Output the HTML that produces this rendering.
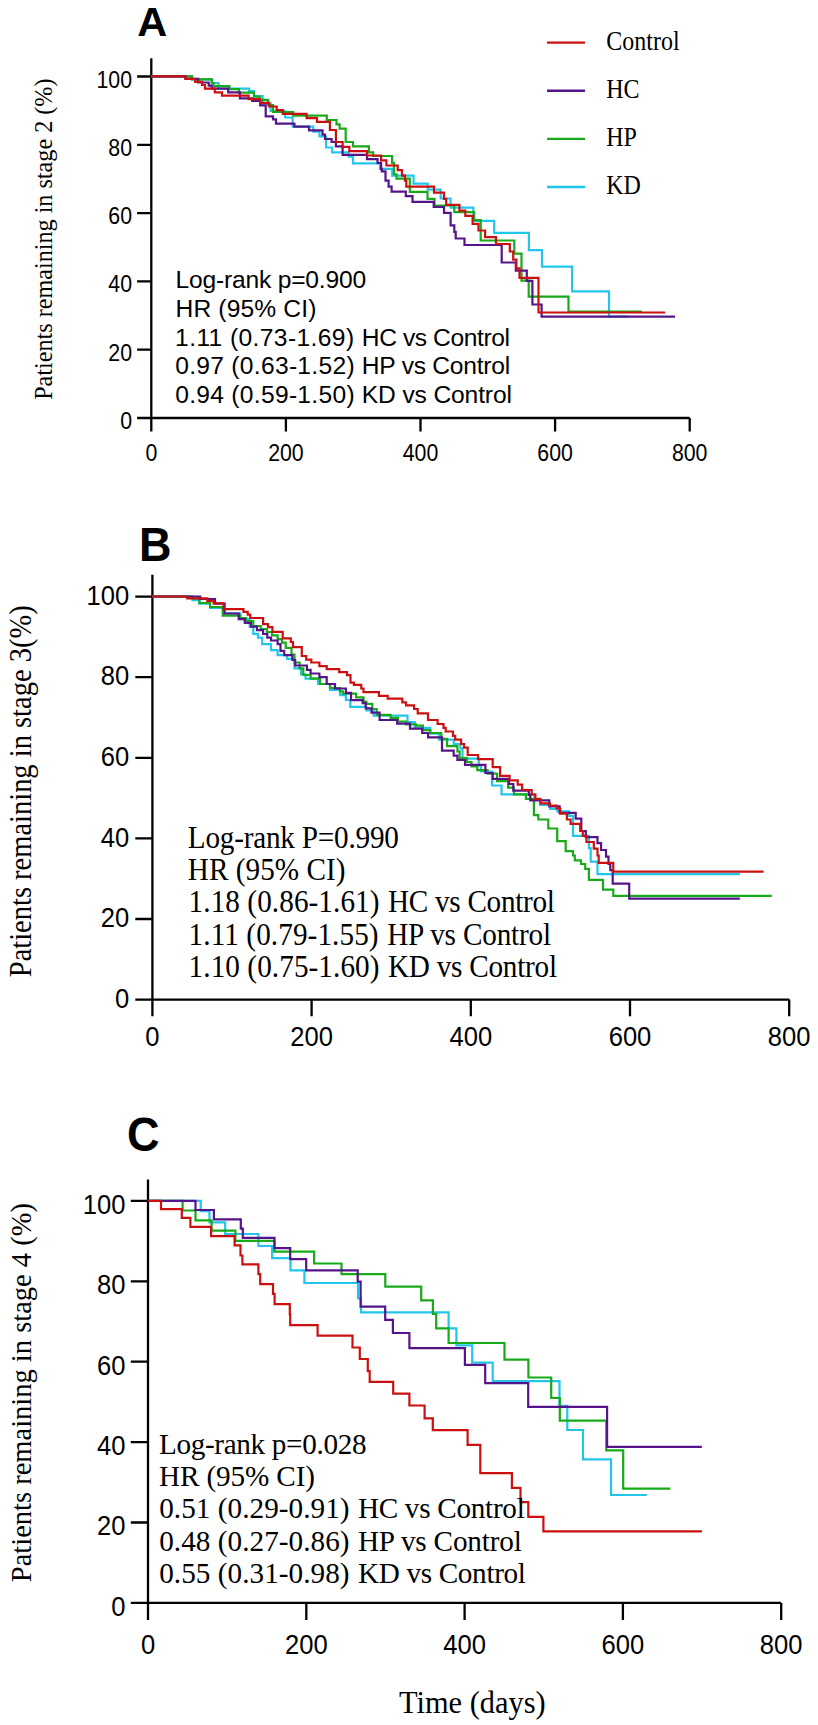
<!DOCTYPE html>
<html><head><meta charset="utf-8"><style>
html,body{margin:0;padding:0;background:#fff;overflow:hidden;}
svg{display:block;}
</style></head><body>
<svg width="818" height="1725" viewBox="0 0 818 1725">
<rect width="818" height="1725" fill="#fff"/>
<path d="M151.3,58.3V431.6M137.1,418.0H689.7M137.1,349.70H151.3M137.1,281.40H151.3M137.1,213.10H151.3M137.1,144.80H151.3M137.1,76.50H151.3M285.90,418.0V431.6M420.50,418.0V431.6M555.10,418.0V431.6M689.70,418.0V431.6" stroke="#000" stroke-width="2.3" fill="none"/>
<path d="M152.4,574.8V1016.2M135.3,999.6H789.1999999999999M135.3,919.00H152.4M135.3,838.40H152.4M135.3,757.80H152.4M135.3,677.20H152.4M135.3,596.60H152.4M311.60,999.6V1016.2M470.80,999.6V1016.2M630.00,999.6V1016.2M789.20,999.6V1016.2" stroke="#000" stroke-width="2.3" fill="none"/>
<path d="M148.0,1179.6V1619.9M130.8,1602.9H781.2M130.8,1522.50H148.0M130.8,1442.10H148.0M130.8,1361.70H148.0M130.8,1281.30H148.0M130.8,1200.90H148.0M306.30,1602.9V1619.9M464.60,1602.9V1619.9M622.90,1602.9V1619.9M781.20,1602.9V1619.9" stroke="#000" stroke-width="2.3" fill="none"/>
<path d="M151.3,76.4 L192.0,76.4 L192.0,79.4 L212.0,79.4 L212.0,83.0 L218.5,83.0 L218.5,88.6 L249.0,88.6 L249.0,91.2 L254.0,91.2 L254.0,96.1 L262.6,96.1 L262.6,103.4 L270.6,103.4 L270.6,110.8 L285.2,110.8 L285.2,117.5 L292.6,117.5 L292.6,126.7 L313.3,126.7 L313.3,131.6 L319.5,131.6 L319.5,136.5 L326.1,136.5 L326.1,147.5 L332.2,147.5 L332.2,152.4 L348.7,152.4 L348.7,156.7 L353.0,156.7 L353.0,163.4 L379.9,163.4 L379.9,168.9 L392.2,168.9 L392.2,175.7 L413.6,175.7 L413.6,183.6 L427.7,183.6 L427.7,189.7 L440.7,189.7 L440.7,198.5 L450.6,198.5 L450.6,207.7 L473.3,207.7 L473.3,220.9 L494.2,220.9 L494.2,232.8 L528.9,232.8 L528.9,250.1 L542.0,250.1 L542.0,266.6 L572.1,266.6 L572.1,291.4 L609.0,291.4 L609.0,316.7 L628.0,316.7" stroke="#22c6ea" stroke-width="2.2" fill="none"/>
<path d="M151.3,76.4 L192.0,76.4 L192.0,79.4 L211.7,79.4 L211.7,83.1 L213.6,83.1 L213.6,86.2 L229.5,86.2 L229.5,89.2 L239.0,89.2 L239.0,92.6 L254.0,92.6 L254.0,96.7 L259.6,96.7 L259.6,99.8 L268.1,99.8 L268.1,105.0 L273.0,105.0 L273.0,112.0 L293.2,112.0 L293.2,115.7 L326.8,115.7 L326.8,120.0 L336.5,120.0 L336.5,124.3 L339.6,124.3 L339.6,128.6 L345.7,128.6 L345.7,142.0 L353.0,142.0 L353.0,146.3 L368.9,146.3 L368.9,152.4 L373.2,152.4 L373.2,156.0 L392.1,156.0 L392.1,162.8 L394.0,162.8 L394.0,174.4 L396.5,174.4 L396.5,178.7 L409.8,178.7 L409.8,191.9 L427.5,191.9 L427.5,198.9 L434.5,198.9 L434.5,205.5 L454.3,205.5 L454.3,212.1 L474.1,212.1 L474.1,220.2 L480.7,220.2 L480.7,240.5 L514.3,240.5 L514.3,253.7 L521.5,253.7 L521.5,280.7 L528.7,280.7 L528.7,296.6 L568.5,296.6 L568.5,311.5 L642.0,311.5" stroke="#18aa18" stroke-width="2.2" fill="none"/>
<path d="M151.3,76.4 L185.5,76.4 L185.5,78.8 L198.3,78.8 L198.3,82.5 L208.7,82.5 L208.7,85.6 L211.7,85.6 L211.7,88.6 L228.2,88.6 L228.2,92.3 L239.9,92.3 L239.9,98.4 L252.2,98.4 L252.2,101.0 L260.2,101.0 L260.2,105.3 L265.7,105.3 L265.7,116.3 L273.0,116.3 L273.0,119.3 L276.0,119.3 L276.0,123.6 L294.4,123.6 L294.4,126.7 L309.0,126.7 L309.0,130.3 L322.5,130.3 L322.5,134.7 L325.0,134.7 L325.0,139.0 L331.6,139.0 L331.6,142.0 L335.9,142.0 L335.9,146.3 L342.6,146.3 L342.6,154.8 L367.0,154.8 L367.0,159.1 L377.5,159.1 L377.5,162.8 L381.1,162.8 L381.1,168.9 L381.8,168.9 L381.8,171.4 L385.5,171.4 L385.5,180.6 L388.6,180.6 L388.6,186.7 L391.6,186.7 L391.6,191.6 L405.8,191.6 L405.8,196.2 L412.5,196.2 L412.5,201.9 L433.7,201.9 L433.7,207.0 L444.0,207.0 L444.0,212.9 L450.6,212.9 L450.6,225.3 L454.3,225.3 L454.3,231.9 L455.7,231.9 L455.7,238.5 L464.5,238.5 L464.5,245.0 L501.7,245.0 L501.7,262.5 L515.8,262.5 L515.8,270.6 L526.8,270.6 L526.8,280.9 L532.4,280.9 L532.4,304.5 L541.6,304.5 L541.6,316.7 L675.0,316.7" stroke="#56148a" stroke-width="2.2" fill="none"/>
<path d="M151.3,76.4 L185.5,76.4 L185.5,78.8 L195.2,78.8 L195.2,81.9 L202.0,81.9 L202.0,85.0 L205.0,85.0 L205.0,88.6 L214.8,88.6 L214.8,92.3 L222.0,92.3 L222.0,95.6 L248.6,95.6 L248.6,99.2 L260.2,99.2 L260.2,102.8 L269.3,102.8 L269.3,106.5 L276.7,106.5 L276.7,110.2 L282.8,110.2 L282.8,113.8 L306.6,113.8 L306.6,118.1 L317.0,118.1 L317.0,121.8 L329.9,121.8 L329.9,130.0 L335.9,130.0 L335.9,142.0 L342.6,142.0 L342.6,146.9 L349.3,146.9 L349.3,151.2 L367.0,151.2 L367.0,155.5 L381.1,155.5 L381.1,160.3 L386.4,160.3 L386.4,165.5 L397.7,165.5 L397.7,170.2 L402.0,170.2 L402.0,175.7 L405.0,175.7 L405.0,180.6 L406.3,180.6 L406.3,186.7 L434.0,186.7 L434.0,192.7 L444.0,192.7 L444.0,198.9 L446.2,198.9 L446.2,204.8 L459.4,204.8 L459.4,210.7 L465.3,210.7 L465.3,215.8 L472.6,215.8 L472.6,223.9 L478.5,223.9 L478.5,230.5 L485.1,230.5 L485.1,237.1 L496.0,237.1 L496.0,244.0 L509.8,244.0 L509.8,251.5 L513.2,251.5 L513.2,259.7 L516.4,259.7 L516.4,268.4 L519.5,268.4 L519.5,277.8 L538.5,277.8 L538.5,312.5 L665.2,312.5" stroke="#cc1010" stroke-width="2.2" fill="none"/>
<path d="M152.0,596.5 L192.5,596.5 L192.5,600.2 L199.3,600.2 L199.3,603.6 L210.1,603.6 L210.1,608.0 L224.0,608.0 L224.0,613.4 L240.4,613.4 L240.4,619.0 L249.7,619.0 L249.7,626.6 L253.3,626.6 L253.3,633.9 L258.0,633.9 L258.0,637.6 L262.2,637.6 L262.2,644.2 L271.0,644.2 L271.0,650.1 L277.6,650.1 L277.6,655.2 L287.1,655.2 L287.1,658.9 L294.5,658.9 L294.5,668.4 L301.1,668.4 L301.1,674.3 L305.5,674.3 L305.5,678.7 L318.0,678.7 L318.0,684.0 L330.0,684.0 L330.0,690.0 L340.0,690.0 L340.0,695.1 L345.9,695.1 L345.9,700.0 L350.3,700.0 L350.3,706.8 L366.4,706.8 L366.4,710.5 L373.7,710.5 L373.7,715.6 L407.5,715.6 L407.5,722.2 L414.8,722.2 L414.8,727.9 L430.3,727.9 L430.3,733.7 L439.1,733.7 L439.1,739.6 L453.7,739.6 L453.7,744.0 L460.3,744.0 L460.3,748.4 L462.5,748.4 L462.5,758.7 L478.8,758.7 L478.8,765.7 L481.0,765.7 L481.0,771.5 L492.0,771.5 L492.0,785.5 L501.5,785.5 L501.5,794.3 L534.5,794.3 L534.5,800.0 L540.0,800.0 L540.0,805.0 L550.0,805.0 L550.0,809.0 L557.4,809.0 L557.4,811.4 L569.1,811.4 L569.1,815.8 L573.0,815.8 L573.0,835.9 L588.9,835.9 L588.9,848.1 L590.7,848.1 L590.7,861.6 L597.5,861.6 L597.5,874.2 L739.9,874.2" stroke="#22c6ea" stroke-width="2.2" fill="none"/>
<path d="M152.0,596.5 L192.5,596.5 L192.5,598.5 L199.5,598.5 L199.5,603.0 L210.0,603.0 L210.0,607.0 L222.7,607.0 L222.7,615.7 L240.2,615.7 L240.2,618.1 L246.0,618.1 L246.0,621.1 L253.3,621.1 L253.3,626.0 L260.7,626.0 L260.7,629.0 L266.8,629.0 L266.8,632.0 L272.0,632.0 L272.0,635.4 L277.6,635.4 L277.6,639.1 L282.0,639.1 L282.0,642.7 L285.7,642.7 L285.7,647.9 L291.5,647.9 L291.5,654.5 L294.5,654.5 L294.5,662.5 L299.6,662.5 L299.6,668.4 L303.3,668.4 L303.3,675.0 L310.6,675.0 L310.6,678.7 L320.0,678.7 L320.0,684.0 L330.0,684.0 L330.0,688.0 L340.0,688.0 L340.0,691.4 L342.9,691.4 L342.9,693.6 L356.1,693.6 L356.1,697.3 L363.5,697.3 L363.5,701.7 L366.4,701.7 L366.4,703.9 L372.3,703.9 L372.3,709.0 L376.7,709.0 L376.7,714.9 L390.6,714.9 L390.6,717.8 L397.9,717.8 L397.9,721.5 L406.0,721.5 L406.0,724.4 L416.0,724.4 L416.0,725.7 L422.9,725.7 L422.9,730.1 L430.3,730.1 L430.3,733.0 L441.3,733.0 L441.3,738.9 L447.1,738.9 L447.1,746.2 L457.4,746.2 L457.4,751.3 L459.6,751.3 L459.6,758.0 L466.9,758.0 L466.9,762.0 L471.5,762.0 L471.5,766.4 L477.3,766.4 L477.3,770.1 L487.6,770.1 L487.6,773.7 L497.1,773.7 L497.1,781.1 L508.1,781.1 L508.1,787.7 L514.0,787.7 L514.0,794.3 L525.9,794.3 L525.9,798.9 L533.9,798.9 L533.9,815.1 L538.3,815.1 L538.3,819.5 L548.3,819.5 L548.3,828.5 L557.2,828.5 L557.2,841.2 L565.7,841.2 L565.7,851.2 L573.0,851.2 L573.0,855.5 L574.8,855.5 L574.8,860.3 L581.0,860.3 L581.0,864.0 L585.2,864.0 L585.2,868.9 L588.9,868.9 L588.9,879.9 L603.0,879.9 L603.0,889.7 L613.3,889.7 L613.3,895.9 L771.7,895.9" stroke="#18aa18" stroke-width="2.2" fill="none"/>
<path d="M152.0,596.5 L200.3,596.5 L200.3,599.0 L215.0,599.0 L215.0,603.6 L224.6,603.6 L224.6,613.5 L238.7,613.5 L238.7,619.2 L244.8,619.2 L244.8,622.9 L250.9,622.9 L250.9,626.6 L257.0,626.6 L257.0,630.2 L263.1,630.2 L263.1,634.0 L267.3,634.0 L267.3,637.6 L271.0,637.6 L271.0,640.5 L277.6,640.5 L277.6,644.2 L280.5,644.2 L280.5,650.8 L284.2,650.8 L284.2,655.2 L292.3,655.2 L292.3,660.0 L295.2,660.0 L295.2,665.5 L306.9,665.5 L306.9,669.9 L310.6,669.9 L310.6,673.5 L319.4,673.5 L319.4,677.2 L326.7,677.2 L326.7,684.0 L335.0,684.0 L335.0,688.5 L345.9,688.5 L345.9,692.9 L351.0,692.9 L351.0,700.2 L362.7,700.2 L362.7,703.1 L365.7,703.1 L365.7,708.3 L371.5,708.3 L371.5,712.7 L379.6,712.7 L379.6,720.0 L397.2,720.0 L397.2,723.7 L410.0,723.7 L410.0,728.6 L422.2,728.6 L422.2,733.0 L428.1,733.0 L428.1,737.4 L442.0,737.4 L442.0,750.6 L453.7,750.6 L453.7,755.7 L457.4,755.7 L457.4,760.0 L465.0,760.0 L465.0,764.9 L485.4,764.9 L485.4,773.0 L492.7,773.0 L492.7,778.9 L508.9,778.9 L508.9,784.0 L513.3,784.0 L513.3,790.6 L528.8,790.6 L528.8,795.0 L530.3,795.0 L530.3,800.4 L549.3,800.4 L549.3,806.3 L559.6,806.3 L559.6,812.9 L575.7,812.9 L575.7,818.7 L581.3,818.7 L581.3,831.0 L585.8,831.0 L585.8,837.1 L597.5,837.1 L597.5,843.2 L601.1,843.2 L601.1,850.0 L606.0,850.0 L606.0,856.7 L608.5,856.7 L608.5,864.0 L610.3,864.0 L610.3,870.1 L612.7,870.1 L612.7,883.6 L629.2,883.6 L629.2,898.7 L739.9,898.7" stroke="#56148a" stroke-width="2.2" fill="none"/>
<path d="M152.0,596.5 L187.2,596.5 L187.2,598.4 L207.3,598.4 L207.3,600.8 L213.5,600.8 L213.5,603.4 L223.6,603.4 L223.6,609.2 L243.5,609.2 L243.5,611.9 L247.7,611.9 L247.7,614.7 L250.3,614.7 L250.3,618.0 L263.1,618.0 L263.1,624.1 L268.0,624.1 L268.0,627.2 L272.4,627.2 L272.4,631.9 L282.7,631.9 L282.7,638.3 L290.8,638.3 L290.8,642.0 L293.0,642.0 L293.0,647.1 L301.8,647.1 L301.8,656.0 L306.2,656.0 L306.2,659.6 L311.3,659.6 L311.3,662.5 L319.4,662.5 L319.4,666.2 L326.7,666.2 L326.7,669.1 L339.2,669.1 L339.2,672.1 L347.0,672.1 L347.0,675.2 L350.5,675.2 L350.5,682.6 L353.9,682.6 L353.9,684.8 L361.3,684.8 L361.3,688.5 L363.5,688.5 L363.5,692.1 L378.9,692.1 L378.9,695.8 L387.7,695.8 L387.7,698.7 L402.3,698.7 L402.3,702.4 L406.0,702.4 L406.0,705.3 L414.1,705.3 L414.1,709.0 L417.7,709.0 L417.7,713.3 L428.0,713.3 L428.0,720.0 L437.6,720.0 L437.6,724.0 L443.5,724.0 L443.5,727.9 L445.7,727.9 L445.7,731.5 L453.0,731.5 L453.0,735.9 L455.2,735.9 L455.2,739.6 L461.1,739.6 L461.1,744.0 L464.0,744.0 L464.0,747.7 L467.7,747.7 L467.7,755.0 L478.0,755.0 L478.0,759.2 L492.7,759.2 L492.7,767.1 L500.1,767.1 L500.1,775.9 L509.6,775.9 L509.6,780.3 L517.7,780.3 L517.7,784.7 L522.1,784.7 L522.1,790.0 L531.7,790.0 L531.7,794.5 L535.4,794.5 L535.4,798.9 L540.5,798.9 L540.5,803.3 L550.0,803.3 L550.0,805.5 L556.7,805.5 L556.7,808.5 L560.3,808.5 L560.3,813.6 L566.9,813.6 L566.9,819.5 L570.6,819.5 L570.6,823.9 L580.2,823.9 L580.2,831.0 L582.8,831.0 L582.8,835.9 L586.5,835.9 L586.5,842.0 L593.8,842.0 L593.8,848.7 L597.5,848.7 L597.5,855.5 L598.7,855.5 L598.7,862.8 L613.3,862.8 L613.3,871.7 L763.6,871.7" stroke="#cc1010" stroke-width="2.2" fill="none"/>
<path d="M148.2,1200.8 L200.7,1200.8 L200.7,1211.1 L209.5,1211.1 L209.5,1222.3 L225.2,1222.3 L225.2,1234.0 L258.4,1234.0 L258.4,1246.0 L272.1,1246.0 L272.1,1258.1 L290.5,1258.1 L290.5,1270.3 L304.4,1270.3 L304.4,1283.0 L358.0,1283.0 L358.0,1298.5 L361.0,1298.5 L361.0,1312.3 L448.6,1312.3 L448.6,1328.3 L456.4,1328.3 L456.4,1345.3 L472.2,1345.3 L472.2,1362.6 L492.7,1362.6 L492.7,1381.2 L559.5,1381.2 L559.5,1405.9 L567.3,1405.9 L567.3,1430.0 L583.0,1430.0 L583.0,1459.3 L611.0,1459.3 L611.0,1495.0 L646.8,1495.0" stroke="#22c6ea" stroke-width="2.2" fill="none"/>
<path d="M148.2,1200.8 L182.6,1200.8 L182.6,1210.5 L195.5,1210.5 L195.5,1220.3 L211.5,1220.3 L211.5,1230.7 L235.4,1230.7 L235.4,1240.9 L274.3,1240.9 L274.3,1251.6 L314.1,1251.6 L314.1,1263.5 L341.5,1263.5 L341.5,1274.1 L385.3,1274.1 L385.3,1286.6 L421.2,1286.6 L421.2,1300.3 L432.9,1300.3 L432.9,1314.0 L436.2,1314.0 L436.2,1328.3 L448.6,1328.3 L448.6,1343.0 L504.5,1343.0 L504.5,1359.6 L528.4,1359.6 L528.4,1377.5 L551.2,1377.5 L551.2,1398.0 L559.8,1398.0 L559.8,1420.7 L606.3,1420.7 L606.3,1450.4 L623.2,1450.4 L623.2,1488.6 L670.3,1488.6" stroke="#18aa18" stroke-width="2.2" fill="none"/>
<path d="M148.2,1200.8 L195.5,1200.8 L195.5,1210.0 L213.9,1210.0 L213.9,1219.3 L240.8,1219.3 L240.8,1228.7 L242.8,1228.7 L242.8,1237.9 L274.5,1237.9 L274.5,1248.1 L290.2,1248.1 L290.2,1259.1 L306.2,1259.1 L306.2,1270.3 L357.7,1270.3 L357.7,1281.6 L360.6,1281.6 L360.6,1306.6 L385.2,1306.6 L385.2,1319.9 L392.9,1319.9 L392.9,1333.0 L409.4,1333.0 L409.4,1348.1 L464.9,1348.1 L464.9,1364.8 L485.2,1364.8 L485.2,1383.1 L528.2,1383.1 L528.2,1406.9 L607.1,1406.9 L607.1,1446.8 L701.8,1446.8" stroke="#56148a" stroke-width="2.2" fill="none"/>
<path d="M148.2,1200.8 L161.0,1200.8 L161.0,1209.2 L181.8,1209.2 L181.8,1217.8 L190.4,1217.8 L190.4,1226.8 L211.1,1226.8 L211.1,1236.2 L234.6,1236.2 L234.6,1245.4 L240.5,1245.4 L240.5,1255.5 L242.4,1255.5 L242.4,1264.4 L258.4,1264.4 L258.4,1274.2 L260.2,1274.2 L260.2,1284.1 L273.0,1284.1 L273.0,1293.8 L274.6,1293.8 L274.6,1304.2 L289.8,1304.2 L289.8,1314.3 L290.2,1314.3 L290.2,1325.1 L317.6,1325.1 L317.6,1335.6 L352.5,1335.6 L352.5,1347.5 L359.8,1347.5 L359.8,1359.0 L367.8,1359.0 L367.8,1371.1 L369.7,1371.1 L369.7,1381.8 L393.2,1381.8 L393.2,1393.6 L409.4,1393.6 L409.4,1405.5 L424.6,1405.5 L424.6,1418.4 L432.8,1418.4 L432.8,1430.1 L467.6,1430.1 L467.6,1444.8 L480.3,1444.8 L480.3,1473.1 L511.9,1473.1 L511.9,1487.8 L520.5,1487.8 L520.5,1502.2 L528.3,1502.2 L528.3,1516.9 L543.4,1516.9 L543.4,1531.3 L701.9,1531.3" stroke="#cc1010" stroke-width="2.2" fill="none"/>
<text transform="translate(132.00,429.00) scale(1.0,1.13)" font-family="&quot;Liberation Sans&quot;, sans-serif" font-size="21.3" text-anchor="end">0</text>
<text transform="translate(132.00,360.70) scale(1.0,1.13)" font-family="&quot;Liberation Sans&quot;, sans-serif" font-size="21.3" text-anchor="end">20</text>
<text transform="translate(132.00,292.40) scale(1.0,1.13)" font-family="&quot;Liberation Sans&quot;, sans-serif" font-size="21.3" text-anchor="end">40</text>
<text transform="translate(132.00,224.10) scale(1.0,1.13)" font-family="&quot;Liberation Sans&quot;, sans-serif" font-size="21.3" text-anchor="end">60</text>
<text transform="translate(132.00,155.80) scale(1.0,1.13)" font-family="&quot;Liberation Sans&quot;, sans-serif" font-size="21.3" text-anchor="end">80</text>
<text transform="translate(132.00,87.50) scale(1.0,1.13)" font-family="&quot;Liberation Sans&quot;, sans-serif" font-size="21.3" text-anchor="end">100</text>
<text transform="translate(151.30,461.20) scale(1.0,1.13)" font-family="&quot;Liberation Sans&quot;, sans-serif" font-size="21.3" text-anchor="middle">0</text>
<text transform="translate(285.90,461.20) scale(1.0,1.13)" font-family="&quot;Liberation Sans&quot;, sans-serif" font-size="21.3" text-anchor="middle">200</text>
<text transform="translate(420.50,461.20) scale(1.0,1.13)" font-family="&quot;Liberation Sans&quot;, sans-serif" font-size="21.3" text-anchor="middle">400</text>
<text transform="translate(555.10,461.20) scale(1.0,1.13)" font-family="&quot;Liberation Sans&quot;, sans-serif" font-size="21.3" text-anchor="middle">600</text>
<text transform="translate(689.70,461.20) scale(1.0,1.13)" font-family="&quot;Liberation Sans&quot;, sans-serif" font-size="21.3" text-anchor="middle">800</text>
<text transform="translate(129.20,1007.70) scale(1.0,1.075)" font-family="&quot;Liberation Sans&quot;, sans-serif" font-size="25.6" text-anchor="end">0</text>
<text transform="translate(129.20,927.10) scale(1.0,1.075)" font-family="&quot;Liberation Sans&quot;, sans-serif" font-size="25.6" text-anchor="end">20</text>
<text transform="translate(129.20,846.50) scale(1.0,1.075)" font-family="&quot;Liberation Sans&quot;, sans-serif" font-size="25.6" text-anchor="end">40</text>
<text transform="translate(129.20,765.90) scale(1.0,1.075)" font-family="&quot;Liberation Sans&quot;, sans-serif" font-size="25.6" text-anchor="end">60</text>
<text transform="translate(129.20,685.30) scale(1.0,1.075)" font-family="&quot;Liberation Sans&quot;, sans-serif" font-size="25.6" text-anchor="end">80</text>
<text transform="translate(129.20,604.70) scale(1.0,1.075)" font-family="&quot;Liberation Sans&quot;, sans-serif" font-size="25.6" text-anchor="end">100</text>
<text transform="translate(152.40,1045.60) scale(1.0,1.075)" font-family="&quot;Liberation Sans&quot;, sans-serif" font-size="25.6" text-anchor="middle">0</text>
<text transform="translate(311.60,1045.60) scale(1.0,1.075)" font-family="&quot;Liberation Sans&quot;, sans-serif" font-size="25.6" text-anchor="middle">200</text>
<text transform="translate(470.80,1045.60) scale(1.0,1.075)" font-family="&quot;Liberation Sans&quot;, sans-serif" font-size="25.6" text-anchor="middle">400</text>
<text transform="translate(630.00,1045.60) scale(1.0,1.075)" font-family="&quot;Liberation Sans&quot;, sans-serif" font-size="25.6" text-anchor="middle">600</text>
<text transform="translate(789.20,1045.60) scale(1.0,1.075)" font-family="&quot;Liberation Sans&quot;, sans-serif" font-size="25.6" text-anchor="middle">800</text>
<text transform="translate(125.50,1615.70) scale(1.0,1.075)" font-family="&quot;Liberation Sans&quot;, sans-serif" font-size="25.6" text-anchor="end">0</text>
<text transform="translate(125.50,1535.30) scale(1.0,1.075)" font-family="&quot;Liberation Sans&quot;, sans-serif" font-size="25.6" text-anchor="end">20</text>
<text transform="translate(125.50,1454.90) scale(1.0,1.075)" font-family="&quot;Liberation Sans&quot;, sans-serif" font-size="25.6" text-anchor="end">40</text>
<text transform="translate(125.50,1374.50) scale(1.0,1.075)" font-family="&quot;Liberation Sans&quot;, sans-serif" font-size="25.6" text-anchor="end">60</text>
<text transform="translate(125.50,1294.10) scale(1.0,1.075)" font-family="&quot;Liberation Sans&quot;, sans-serif" font-size="25.6" text-anchor="end">80</text>
<text transform="translate(125.50,1213.70) scale(1.0,1.075)" font-family="&quot;Liberation Sans&quot;, sans-serif" font-size="25.6" text-anchor="end">100</text>
<text transform="translate(148.00,1653.60) scale(1.0,1.075)" font-family="&quot;Liberation Sans&quot;, sans-serif" font-size="25.6" text-anchor="middle">0</text>
<text transform="translate(306.30,1653.60) scale(1.0,1.075)" font-family="&quot;Liberation Sans&quot;, sans-serif" font-size="25.6" text-anchor="middle">200</text>
<text transform="translate(464.60,1653.60) scale(1.0,1.075)" font-family="&quot;Liberation Sans&quot;, sans-serif" font-size="25.6" text-anchor="middle">400</text>
<text transform="translate(622.90,1653.60) scale(1.0,1.075)" font-family="&quot;Liberation Sans&quot;, sans-serif" font-size="25.6" text-anchor="middle">600</text>
<text transform="translate(781.20,1653.60) scale(1.0,1.075)" font-family="&quot;Liberation Sans&quot;, sans-serif" font-size="25.6" text-anchor="middle">800</text>
<text transform="translate(137.30,36.00)" font-family="&quot;Liberation Sans&quot;, sans-serif" font-size="41.5" font-weight="bold">A</text>
<text transform="translate(139.00,561.00) scale(1.0,1.055)" font-family="&quot;Liberation Sans&quot;, sans-serif" font-size="45" font-weight="bold">B</text>
<text transform="translate(127.00,1151.00) scale(1.0,1.06)" font-family="&quot;Liberation Sans&quot;, sans-serif" font-size="45" font-weight="bold">C</text>
<text transform="translate(175.50,288.40)" font-family="&quot;Liberation Sans&quot;, sans-serif" font-size="24.6" textLength="190.6" lengthAdjust="spacing">Log-rank p=0.900</text>
<text transform="translate(175.50,316.95)" font-family="&quot;Liberation Sans&quot;, sans-serif" font-size="24.6" textLength="140.9" lengthAdjust="spacing">HR (95% CI)</text>
<text transform="translate(175.10,345.50)" font-family="&quot;Liberation Sans&quot;, sans-serif" font-size="24.6" textLength="178.99" lengthAdjust="spacing">1.11 (0.73-1.69)</text>
<text transform="translate(361.80,345.50)" font-family="&quot;Liberation Sans&quot;, sans-serif" font-size="24.6" textLength="148.16" lengthAdjust="spacing">HC vs Control</text>
<text transform="translate(175.20,374.05)" font-family="&quot;Liberation Sans&quot;, sans-serif" font-size="24.6" textLength="179.42" lengthAdjust="spacing">0.97 (0.63-1.52)</text>
<text transform="translate(361.80,374.05)" font-family="&quot;Liberation Sans&quot;, sans-serif" font-size="24.6" textLength="148.37" lengthAdjust="spacing">HP vs Control</text>
<text transform="translate(175.20,402.60)" font-family="&quot;Liberation Sans&quot;, sans-serif" font-size="24.6" textLength="179.42" lengthAdjust="spacing">0.94 (0.59-1.50)</text>
<text transform="translate(361.80,402.60)" font-family="&quot;Liberation Sans&quot;, sans-serif" font-size="24.6" textLength="150.12" lengthAdjust="spacing">KD vs Control</text>
<text transform="translate(187.80,847.80) scale(1.0,1.06)" font-family="&quot;Liberation Serif&quot;, serif" font-size="29.2" textLength="211.1" lengthAdjust="spacing">Log-rank P=0.990</text>
<text transform="translate(187.80,880.05) scale(1.0,1.06)" font-family="&quot;Liberation Serif&quot;, serif" font-size="29.2" textLength="157.7" lengthAdjust="spacing">HR (95% CI)</text>
<text transform="translate(188.60,912.30) scale(1.0,1.06)" font-family="&quot;Liberation Serif&quot;, serif" font-size="29.2" textLength="190.9" lengthAdjust="spacing">1.18 (0.86-1.61)</text>
<text transform="translate(387.90,912.30) scale(1.0,1.06)" font-family="&quot;Liberation Serif&quot;, serif" font-size="29.2" textLength="167.08" lengthAdjust="spacing">HC vs Control</text>
<text transform="translate(188.60,944.55) scale(1.0,1.06)" font-family="&quot;Liberation Serif&quot;, serif" font-size="29.2" textLength="190.01" lengthAdjust="spacing">1.11 (0.79-1.55)</text>
<text transform="translate(387.20,944.55) scale(1.0,1.06)" font-family="&quot;Liberation Serif&quot;, serif" font-size="29.2" textLength="163.87" lengthAdjust="spacing">HP vs Control</text>
<text transform="translate(188.60,976.80) scale(1.0,1.06)" font-family="&quot;Liberation Serif&quot;, serif" font-size="29.2" textLength="190.9" lengthAdjust="spacing">1.10 (0.75-1.60)</text>
<text transform="translate(387.90,976.80) scale(1.0,1.06)" font-family="&quot;Liberation Serif&quot;, serif" font-size="29.2" textLength="169.09" lengthAdjust="spacing">KD vs Control</text>
<text transform="translate(159.00,1453.60) scale(1.0,1.04)" font-family="&quot;Liberation Serif&quot;, serif" font-size="29.2" textLength="207.5" lengthAdjust="spacing">Log-rank p=0.028</text>
<text transform="translate(159.00,1485.95) scale(1.0,1.04)" font-family="&quot;Liberation Serif&quot;, serif" font-size="29.2" textLength="156.0" lengthAdjust="spacing">HR (95% CI)</text>
<text transform="translate(159.20,1518.30) scale(1.0,1.04)" font-family="&quot;Liberation Serif&quot;, serif" font-size="29.2" textLength="190.3" lengthAdjust="spacing">0.51 (0.29-0.91)</text>
<text transform="translate(357.90,1518.30) scale(1.0,1.04)" font-family="&quot;Liberation Serif&quot;, serif" font-size="29.2" textLength="166.88" lengthAdjust="spacing">HC vs Control</text>
<text transform="translate(159.20,1550.65) scale(1.0,1.04)" font-family="&quot;Liberation Serif&quot;, serif" font-size="29.2" textLength="190.3" lengthAdjust="spacing">0.48 (0.27-0.86)</text>
<text transform="translate(357.90,1550.65) scale(1.0,1.04)" font-family="&quot;Liberation Serif&quot;, serif" font-size="29.2" textLength="163.87" lengthAdjust="spacing">HP vs Control</text>
<text transform="translate(159.20,1583.00) scale(1.0,1.04)" font-family="&quot;Liberation Serif&quot;, serif" font-size="29.2" textLength="190.3" lengthAdjust="spacing">0.55 (0.31-0.98)</text>
<text transform="translate(357.90,1583.00) scale(1.0,1.04)" font-family="&quot;Liberation Serif&quot;, serif" font-size="29.2" textLength="168.09" lengthAdjust="spacing">KD vs Control</text>
<line x1="547" y1="42.6" x2="585" y2="42.6" stroke="#cc1010" stroke-width="2.4"/>
<text transform="translate(606.30,50.00) scale(1.0,1.11)" font-family="&quot;Liberation Serif&quot;, serif" font-size="24">Control</text>
<line x1="547" y1="90.8" x2="585" y2="90.8" stroke="#56148a" stroke-width="2.4"/>
<text transform="translate(606.30,98.15) scale(1.0,1.11)" font-family="&quot;Liberation Serif&quot;, serif" font-size="24">HC</text>
<line x1="547" y1="138.9" x2="585" y2="138.9" stroke="#18aa18" stroke-width="2.4"/>
<text transform="translate(606.30,146.30) scale(1.0,1.11)" font-family="&quot;Liberation Serif&quot;, serif" font-size="24">HP</text>
<line x1="547" y1="187.0" x2="585" y2="187.0" stroke="#22c6ea" stroke-width="2.4"/>
<text transform="translate(606.30,194.45) scale(1.0,1.11)" font-family="&quot;Liberation Serif&quot;, serif" font-size="24">KD</text>
<text transform="translate(51.90,239.20) rotate(-90) scale(1.0,1.07)" font-family="&quot;Liberation Serif&quot;, serif" font-size="24.17" text-anchor="middle">Patients remaining in stage 2 (%)</text>
<text transform="translate(31.40,791.30) rotate(-90) scale(1.0,1.09)" font-family="&quot;Liberation Serif&quot;, serif" font-size="28.5" text-anchor="middle">Patients remaining in stage 3(%)</text>
<text transform="translate(31.00,1392.60) rotate(-90) scale(1.0,1.05)" font-family="&quot;Liberation Serif&quot;, serif" font-size="28.5" text-anchor="middle">Patients remaining in stage 4 (%)</text>
<text transform="translate(399.00,1712.60) scale(1.0,1.07)" font-family="&quot;Liberation Serif&quot;, serif" font-size="30.4">Time (days)</text>
</svg>
</body></html>
